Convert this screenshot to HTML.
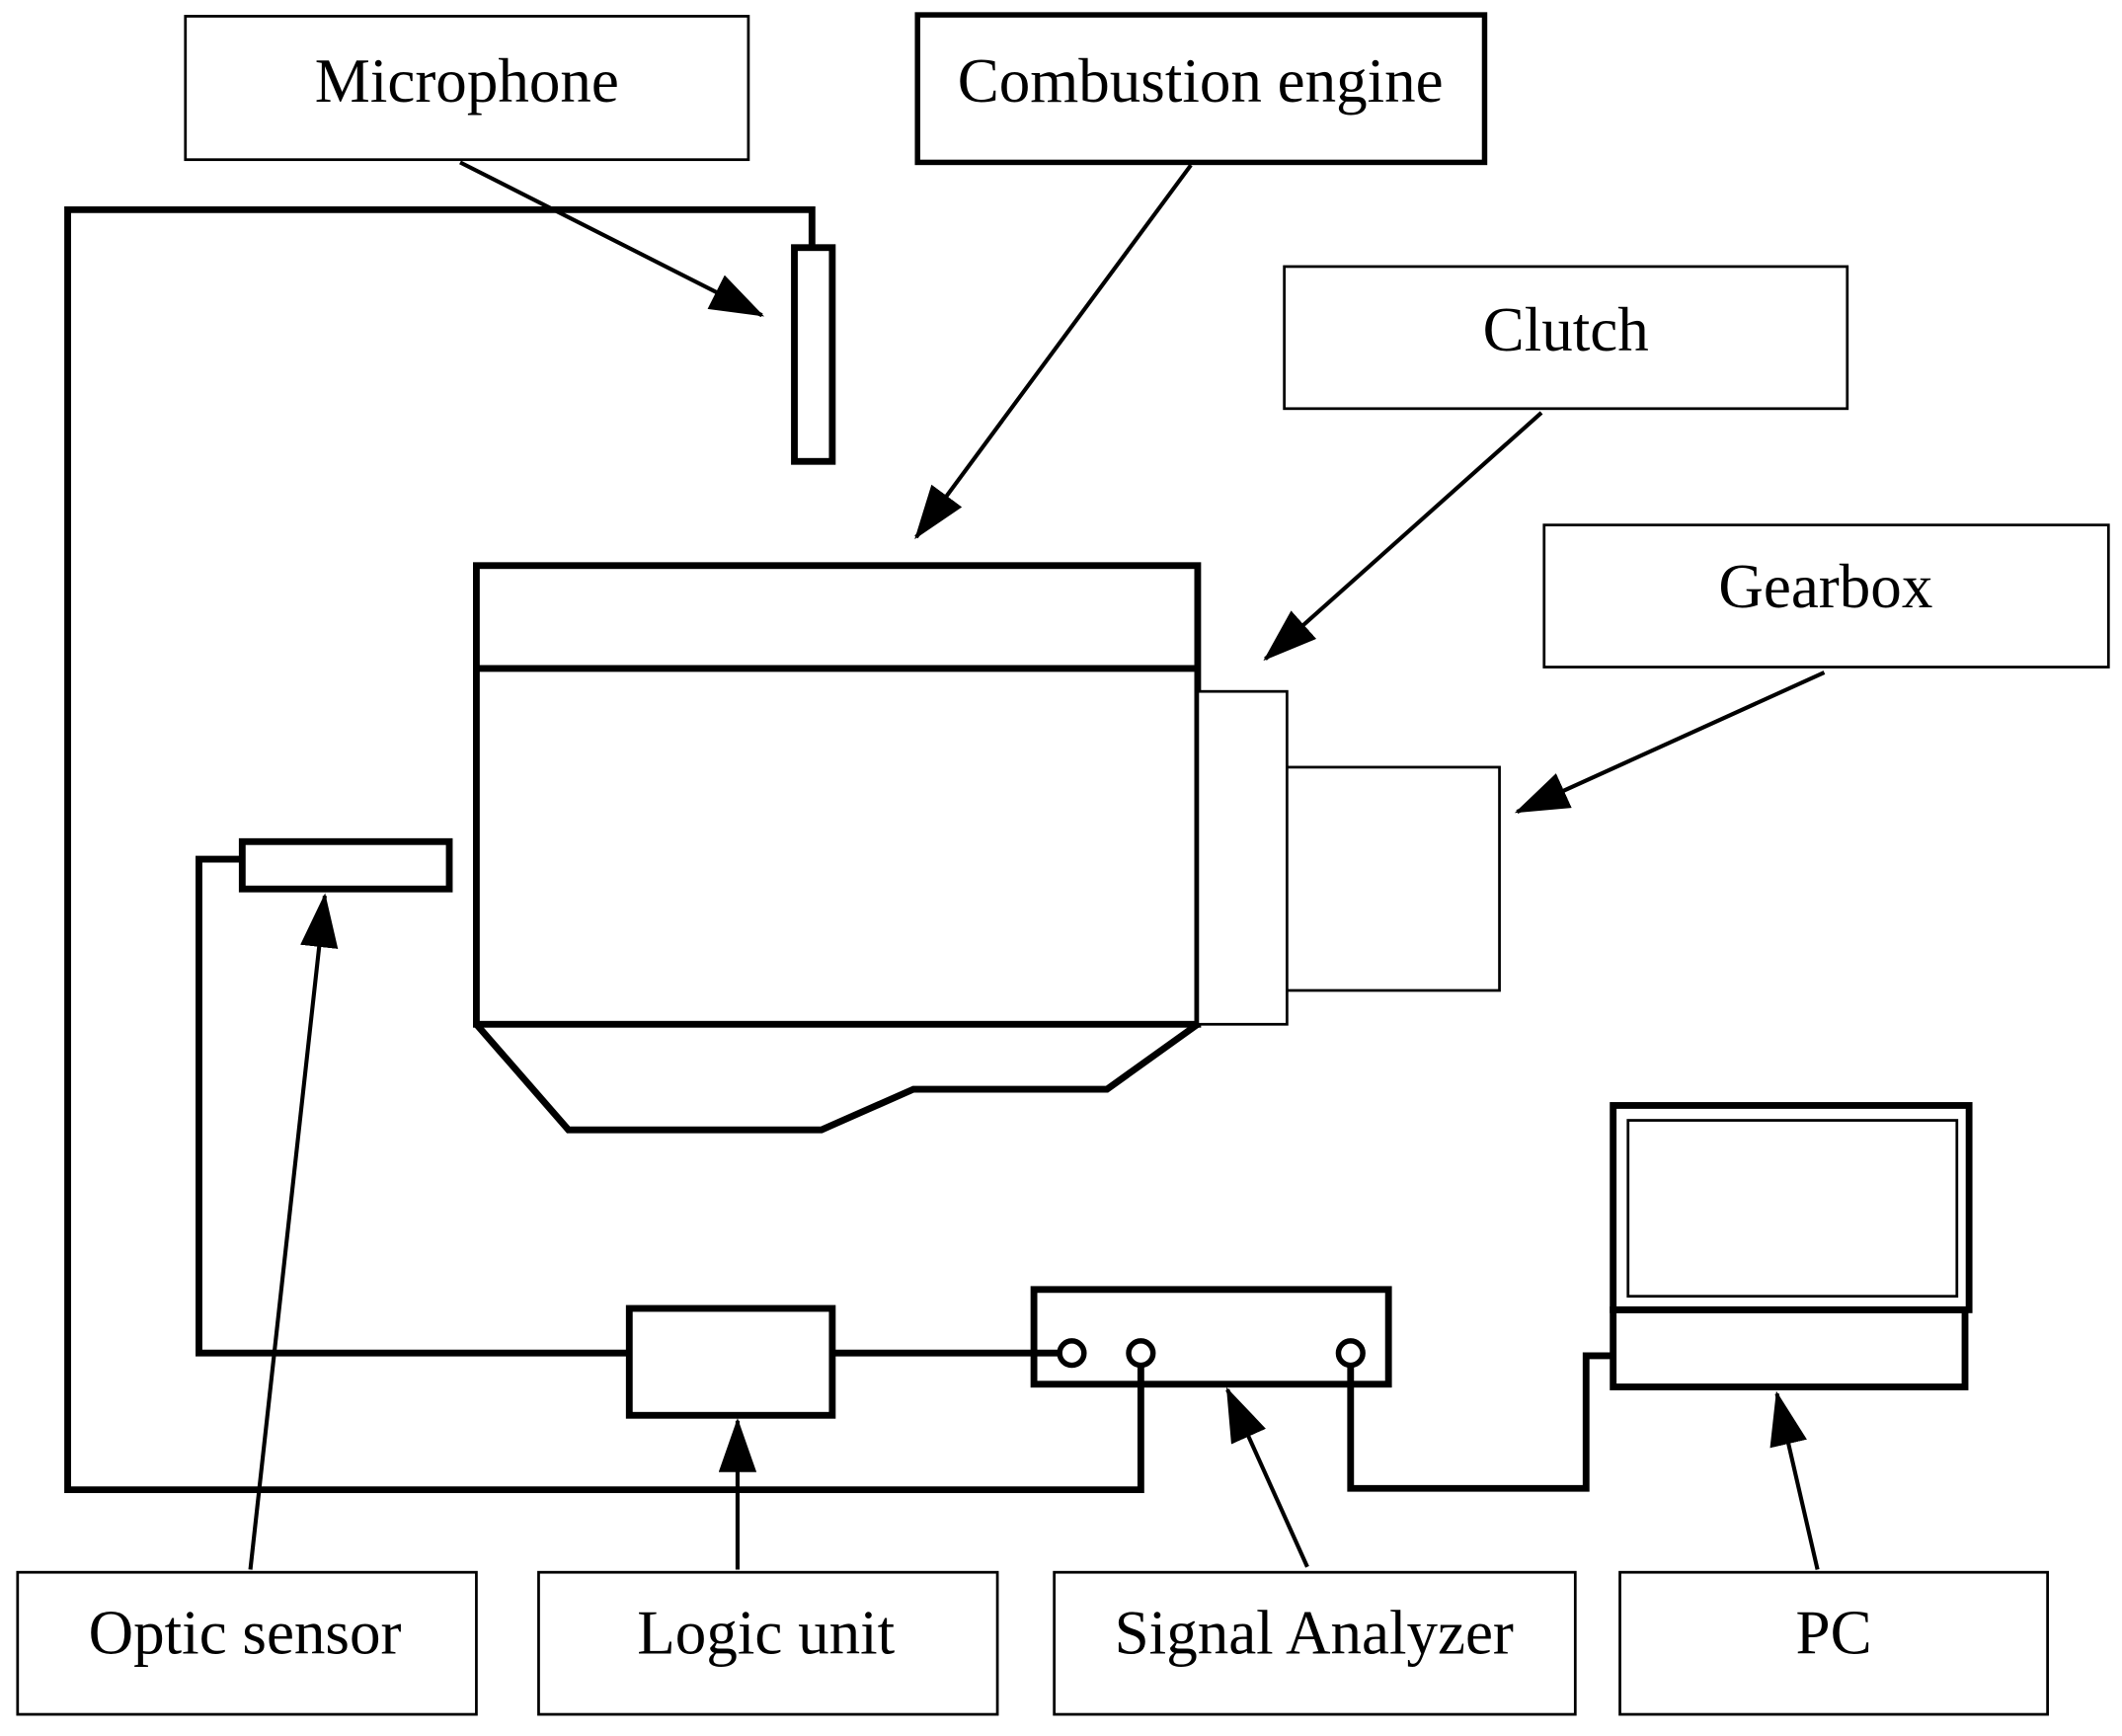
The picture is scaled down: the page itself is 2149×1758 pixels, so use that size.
<!DOCTYPE html>
<html><head><style>html,body{margin:0;padding:0;background:#fff;}svg{display:block}</style></head>
<body>
<svg width="2149" height="1758" viewBox="0 0 1568 1283" preserveAspectRatio="none" xmlns="http://www.w3.org/2000/svg">
<defs>
<marker id="a" markerWidth="40" markerHeight="30" refX="38" refY="14" orient="auto" markerUnits="userSpaceOnUse">
<path d="M0,0 L40,14 L0,28 Z" fill="#000"/>
</marker>
</defs>
<rect width="1568" height="1283" fill="#fff"/>
<g fill="#fff" stroke="#000" stroke-width="2">
<rect x="137" y="12" width="416" height="106"/>
<rect x="678" y="11" width="419" height="109" stroke-width="4"/>
<rect x="949" y="197" width="416" height="105"/>
<rect x="1141" y="388" width="417" height="105"/>
<rect x="13" y="1162" width="339" height="105"/>
<rect x="398" y="1162" width="339" height="105"/>
<rect x="779" y="1162" width="385" height="105"/>
<rect x="1197" y="1162" width="316" height="105"/>
</g>
<g font-family="Liberation Serif, serif" font-size="46" text-anchor="middle" fill="#000">
<text x="345" y="75">Microphone</text>
<text x="887" y="75">Combustion engine</text>
<text x="1157" y="259">Clutch</text>
<text x="1349" y="449">Gearbox</text>
<text x="181" y="1222">Optic sensor</text>
<text x="566" y="1222">Logic unit</text>
<text x="971" y="1222">Signal Analyzer</text>
<text x="1355" y="1222">PC</text>
</g>
<g fill="none" stroke="#000" stroke-width="5">
<polyline points="843,1008 843,1101 50,1101 50,155 600,155 600,183"/>
<rect x="587" y="183" width="28" height="158"/>
<rect x="352" y="418" width="533" height="339"/>
<line x1="352" y1="494" x2="885" y2="494"/>
<polyline points="352,757 420,835 607,835 675,805 818,805 885,757"/>
<rect x="179" y="622" width="153" height="35"/>
<polyline points="179,635 147,635 147,1000 465,1000"/>
<rect x="465" y="967" width="150" height="79"/>
<line x1="615" y1="1000" x2="783" y2="1000"/>
<rect x="764" y="953" width="262" height="70"/>
<polyline points="998,1008 998,1100 1172,1100 1172,1002 1192,1002"/>
<rect x="1192" y="817" width="263" height="151"/>
<rect x="1192" y="968" width="260" height="57"/>
</g>
<g fill="#fff" stroke="#000" stroke-width="2">
<rect x="885" y="511" width="66" height="246"/>
<rect x="951" y="567" width="157" height="165"/>
<rect x="1203" y="828" width="243" height="130"/>
</g>
<g fill="#fff" stroke="#000" stroke-width="4">
<circle cx="792" cy="1000" r="9"/>
<circle cx="843" cy="1000" r="9"/>
<circle cx="998" cy="1000" r="9"/>
</g>
<g stroke="#000" stroke-width="3" marker-end="url(#a)">
<line x1="340" y1="120" x2="563" y2="233"/>
<line x1="880" y1="122" x2="677" y2="397"/>
<line x1="1139" y1="305" x2="935" y2="487"/>
<line x1="1348" y1="497" x2="1121" y2="600"/>
<line x1="185" y1="1160" x2="240" y2="662"/>
<line x1="545" y1="1160" x2="545" y2="1050"/>
<line x1="966" y1="1158" x2="907" y2="1027"/>
<line x1="1343" y1="1160" x2="1313" y2="1030"/>
</g>
</svg>
</body></html>
